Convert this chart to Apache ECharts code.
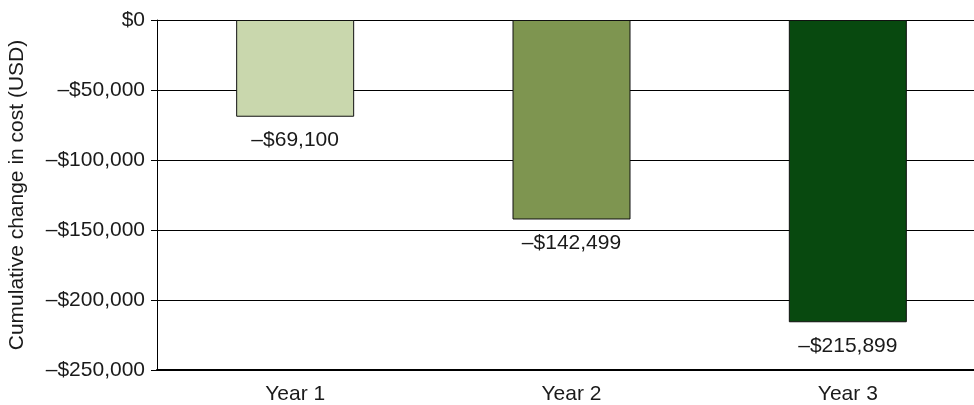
<!DOCTYPE html>
<html>
<head>
<meta charset="UTF-8">
<style>
	html, body { margin: 0; padding: 0; background: #fff; }
	#main { width: 974px; height: 405px; }
</style>
</head>
<body>
	<div id="main"></div>
	<script src="https://cdn.jsdelivr.net/npm/echarts@6/dist/echarts.min.js"></script>
<script>
	var years = ['Year 1', 'Year 2', 'Year 3'];
	var costChange = [-69100, -142499, -215899];
	var barColors = ['#c9d7ad', '#7e9550', '#08490f'];

	function money(v) {
		var s = '$' + Math.abs(v).toLocaleString('en-US');
		return v < 0 ? '\u2013' + s : s;
	}

	var myChart = echarts.init(document.getElementById('main'));
	myChart.setOption({
		animation : false,
		textStyle : { fontFamily : 'Liberation Sans, Arial, sans-serif' },
		grid : {
			left : 157,
			top : 20,
			width : 829,
			height : 350,
			outerBoundsMode : 'none'
		},
		xAxis : [ {
			type : 'category',
			data : years,
			position : 'top',
			axisLine : { onZero : false, lineStyle : { color : '#000', width : 1 } },
			axisTick : { inside : true, length : 7, lineStyle : { color : '#000' } },
			axisLabel : { show : false }
		}, {
			type : 'category',
			data : years,
			position : 'bottom',
			axisLine : { onZero : false, lineStyle : { color : '#000', width : 2 } },
			axisTick : { show : false },
			axisLabel : {
				margin : 14,
				fontSize : 21,
				color : '#1a1a1a'
			}
		} ],
		yAxis : {
			type : 'value',
			min : -250000,
			max : 0,
			interval : 50000,
			name : 'Cumulative change in cost (USD)',
			nameLocation : 'middle',
			nameGap : 129,
			nameTextStyle : { fontSize : 21, color : '#1a1a1a' },
			axisLine : { show : true, lineStyle : { color : '#000' } },
			axisTick : { show : true, length : 6, lineStyle : { color : '#000' } },
			axisLabel : {
				margin : 12,
				fontSize : 21,
				color : '#1a1a1a',
				formatter : money
			},
			splitLine : { lineStyle : { color : '#000', width : 1 } }
		},
		series : [ {
			type : 'bar',
			xAxisIndex : 0,
			barWidth : 118,
			data : costChange.map(function (v, i) {
				return {
					value : v,
					itemStyle : { color : barColors[i] }
				};
			}),
			itemStyle : { borderColor : '#111', borderWidth : 1 },
			label : {
				show : true,
				position : 'bottom',
				distance : 13,
				fontSize : 21,
				color : '#1a1a1a',
				formatter : function (p) { return money(p.value); }
			}
		} ]
	});
</script>
</body>
</html>
